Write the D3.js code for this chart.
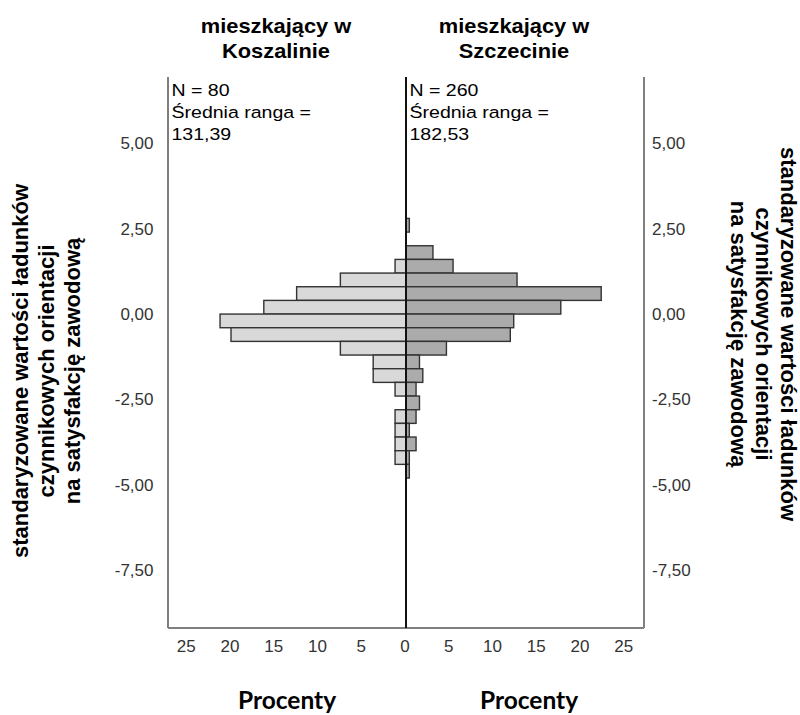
<!DOCTYPE html>
<html>
<head>
<meta charset="utf-8">
<script src="https://cdn.jsdelivr.net/npm/d3@7"></script>
<style>
  html, body { margin: 0; padding: 0; background: #fff; }
  svg { display: block; }
</style>
</head>
<body>
<svg id="chart" width="800" height="715"></svg>
<script>
// ---- data ----
const groupTitles = [["mieszkający w", "Koszalinie"], ["mieszkający w", "Szczecinie"]];
const groupN = [80, 260];
const groupMeanRank = ["131,39", "182,53"];
const binStart = [2.4, 2.0, 1.6, 1.2, 0.8, 0.4, 0.0, -0.4, -0.8, -1.2, -1.6, -2.0, -2.4, -2.8, -3.2, -3.6, -4.0, -4.4, -4.8];
const binWidth = 0.4;
const koszalinPct = [0, 0, 0, 1.25, 7.5, 12.5, 16.25, 21.25, 20, 7.5, 3.75, 3.75, 1.25, 0, 1.25, 1.25, 1.25, 1.25, 0];
const szczecinPct = [0.38, 0, 3.08, 5.38, 12.69, 22.31, 17.69, 12.31, 11.92, 4.62, 1.54, 1.92, 1.15, 1.54, 1.15, 0.38, 1.15, 0.38, 0.38];
const yTicks = [5, 2.5, 0, -2.5, -5, -7.5];
const xTicks = [0, 5, 10, 15, 20, 25];
const yTitleLines = ["standaryzowane wartości ładunków", "czynnikowych orientacji", "na satysfakcję zawodową"];
const xTitle = "Procenty";

// ---- layout ----
const svg = d3.select("#chart");
const pLeft = 168, pRight = 644, pCenter = 406, pTop = 77, pBottom = 628;
const y = d3.scaleLinear().domain([-9.19, 6.94]).range([pBottom, pTop]);
const xL = d3.scaleLinear().domain([0, 27.2]).range([pCenter, pLeft]);
const xR = d3.scaleLinear().domain([0, 27.2]).range([pCenter, pRight]);
const fmt = v => d3.format(".2f")(v).replace(".", ",").replace("−", "-");
const FONT = "Liberation Sans, Arial, sans-serif";

// bars
function drawBars(values, xs, fill, isLeft) {
  svg.append("g").selectAll("rect")
    .data(binStart.map((b, i) => ({ b, v: values[i] })).filter(d => d.v > 0))
    .join("rect")
    .attr("x", d => isLeft ? xs(d.v) : xs(0))
    .attr("width", d => Math.abs(xs(d.v) - xs(0)))
    .attr("y", d => y(d.b + binWidth))
    .attr("height", d => y(d.b) - y(d.b + binWidth))
    .attr("fill", fill)
    .attr("stroke", "#333")
    .attr("stroke-width", 1.4);
}
drawBars(koszalinPct, xL, "#d9d9d9", true);
drawBars(szczecinPct, xR, "#ababab", false);

// frame lines
const frame = svg.append("g").attr("fill", "none");
frame.append("line").attr("x1", pLeft).attr("x2", pLeft).attr("y1", pTop).attr("y2", pBottom).attr("stroke", "#7f7f7f").attr("stroke-width", 2);
frame.append("line").attr("x1", pRight).attr("x2", pRight).attr("y1", pTop).attr("y2", pBottom).attr("stroke", "#7f7f7f").attr("stroke-width", 2);
frame.append("line").attr("x1", pLeft).attr("x2", pRight).attr("y1", pBottom).attr("y2", pBottom).attr("stroke", "#7f7f7f").attr("stroke-width", 2);
frame.append("line").attr("x1", pCenter).attr("x2", pCenter).attr("y1", pTop).attr("y2", pBottom).attr("stroke", "#111").attr("stroke-width", 2);

// y axes (labels only)
const yAxisL = d3.axisLeft(y).tickValues(yTicks).tickFormat(fmt).tickSize(0).tickPadding(14.5);
const gyl = svg.append("g").attr("transform", `translate(${pLeft},0)`).call(yAxisL);
const yAxisR = d3.axisRight(y).tickValues(yTicks).tickFormat(fmt).tickSize(0).tickPadding(8);
const gyr = svg.append("g").attr("transform", `translate(${pRight},0)`).call(yAxisR);
[gyl, gyr].forEach(g => {
  g.select(".domain").remove();
  g.selectAll("text").attr("font-family", FONT).attr("font-size", 17).attr("fill", "#333");
});

// x axes (labels only)
const gxl = svg.append("g").attr("transform", `translate(0,${pBottom})`).call(d3.axisBottom(xL).tickValues(xTicks).tickSize(0).tickPadding(12));
const gxr = svg.append("g").attr("transform", `translate(0,${pBottom})`).call(d3.axisBottom(xR).tickValues(xTicks.filter(t => t > 0)).tickSize(0).tickPadding(12));
[gxl, gxr].forEach(g => {
  g.select(".domain").remove();
  g.selectAll("text").attr("font-family", FONT).attr("font-size", 17).attr("fill", "#333").attr("dx", -1.5);
});

// group titles
const titleX = [276, 514];
groupTitles.forEach((lines, gi) => {
  const t = svg.append("text").attr("text-anchor", "middle")
    .attr("transform", `translate(${titleX[gi]},0) scale(1.04,1)`)
    .attr("font-family", FONT).attr("font-weight", "bold")
    .attr("font-size", 21).attr("fill", "#000");
  lines.forEach((l, li) => t.append("tspan").attr("x", 0).attr("y", 33 + li * 25).text(l));
});

// annotations
const annX = [pLeft + 3.5, pCenter + 3.5];
groupN.forEach((n, gi) => {
  const t = svg.append("text").attr("font-family", FONT)
    .attr("transform", `translate(${annX[gi]},0) scale(1.15,1)`)
    .attr("font-size", 17).attr("fill", "#000");
  ["N = " + n, "Średnia ranga =", groupMeanRank[gi]].forEach((l, li) =>
    t.append("tspan").attr("x", 0).attr("y", 96.5 + li * 22).text(l));
});

// y titles
const tl = svg.append("text").attr("text-anchor", "middle")
  .attr("font-family", FONT).attr("font-weight", "bold")
  .attr("font-size", 22).attr("fill", "#000")
  .attr("transform", "translate(28,371) rotate(-90)");
yTitleLines.forEach((l, li) => tl.append("tspan").attr("x", 0).attr("y", li * 26).text(l));

const tr = svg.append("text").attr("text-anchor", "middle")
  .attr("font-family", FONT).attr("font-weight", "bold")
  .attr("font-size", 22).attr("fill", "#000")
  .attr("transform", "translate(781,334) rotate(90)");
yTitleLines.forEach((l, li) => tr.append("tspan").attr("x", 0).attr("y", li * 25).text(l));

// x titles
[287, 529].forEach(cx => {
  svg.append("text").attr("x", cx).attr("y", 709).attr("text-anchor", "middle")
    .attr("font-family", "Lato, Open Sans, sans-serif").attr("font-weight", "bold")
    .attr("font-size", 24.5).attr("fill", "#000").text(xTitle);
});
</script>
</body>
</html>
